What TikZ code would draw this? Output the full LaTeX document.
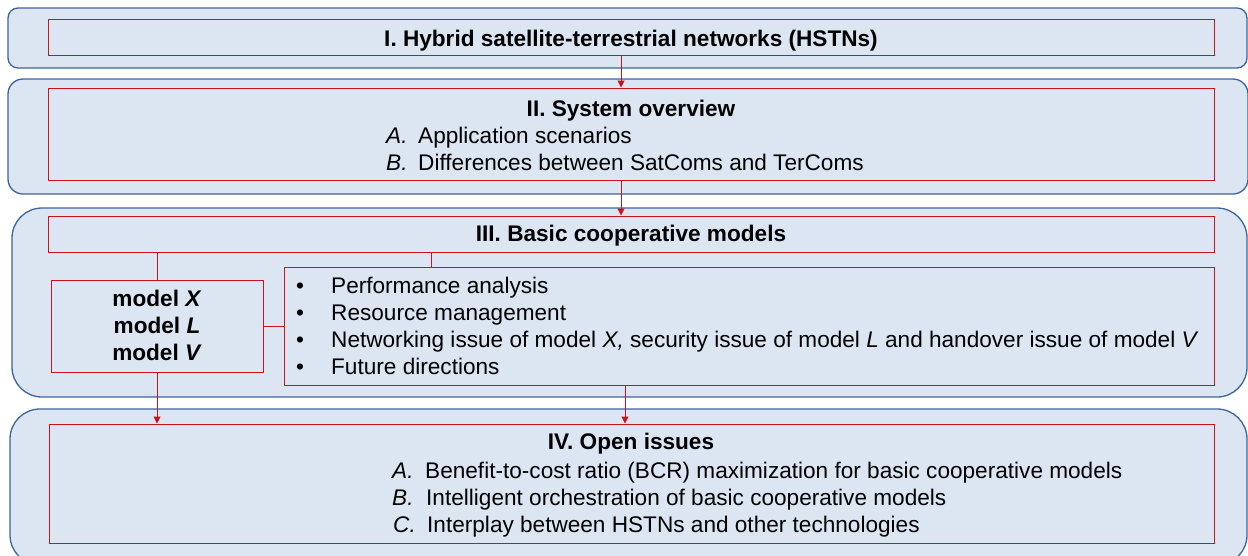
\documentclass[tikz,border=0pt]{standalone}
\usepackage{fontspec}
\setmainfont{Liberation Sans}
\usepackage{xcolor}
\usepackage{tikz}
\usetikzlibrary{arrows.meta}
\definecolor{secfill}{RGB}{220,230,242}
\definecolor{secline}{RGB}{60,100,160}
\definecolor{boxred}{RGB}{200,20,30}

\begin{document}
\begin{tikzpicture}[x=1pt,y=-1pt,font=\fontsize{22.6}{27}\selectfont,
  >={Triangle[length=7pt,width=7pt]},
  sec/.style={rectangle,draw=secline,fill=secfill,line width=1.3pt},
  redbox/.style={rectangle,draw=boxred,line width=1pt,inner sep=0pt},
  link/.style={draw=boxred,line width=1pt},
  txt/.style={anchor=base west,inner sep=0pt},
  ttl/.style={anchor=base,inner sep=0pt,font=\fontsize{22.6}{27}\selectfont\bfseries}]
%\draw[help lines] (0,0) grid (1248,555);
\useasboundingbox (0,0) rectangle (1248,555);
\path
(627.5,38) node(s1) [sec,rounded corners=10pt,minimum width=1239pt,minimum height=60pt] {}
(628,136.5) node(s2) [sec,rounded corners=15pt,minimum width=1240pt,minimum height=115pt] {}
(629.5,302.5) node(s3) [sec,rounded corners=30pt,minimum width=1235pt,minimum height=189pt] {}
(628.5,487) node(s4) [sec,rounded corners=30pt,minimum width=1237pt,minimum height=156pt] {};
\path
(631,37) node(t1) [redbox,minimum width=1166pt,minimum height=36pt] {}
(631,134) node(t2) [redbox,minimum width=1166pt,minimum height=92pt] {}
(631,234) node(t3) [redbox,minimum width=1166pt,minimum height=36pt] {}
(157,326) node(models) [redbox,minimum width=212pt,minimum height=92pt] {}
(749,326) node(bul) [redbox,minimum width=930pt,minimum height=118pt] {}
(631.5,483.5) node(t4) [redbox,minimum width=1165pt,minimum height=119pt] {};
\path
(631,46) node(h1) [ttl] {I. Hybrid satellite-terrestrial networks (HSTNs)}
(631,116) node(h2) [ttl] {II. System overview}
(386,143) node(a2) [txt] {\makebox[32pt][l]{\textit{A.}}Application scenarios}
(386,170) node(b2) [txt] {\makebox[32pt][l]{\textit{B.}}Differences between SatComs and TerComs}
(631,241) node(h3) [ttl] {III. Basic cooperative models}
(157,306) node(mx) [ttl] {model \textit{X}}
(157,333) node(ml) [ttl] {model \textit{L}}
(157,360) node(mv) [ttl] {model \textit{V}}
(296,293) node(p1) [txt] {\makebox[35pt][l]{•}Performance analysis}
(296,320) node(p2) [txt] {\makebox[35pt][l]{•}Resource management}
(296,347) node(p3) [txt] {\makebox[35pt][l]{•}Networking issue of model \textit{X,} security issue of model \textit{L} and handover issue of model \textit{V}}
(296,374) node(p4) [txt] {\makebox[35pt][l]{•}Future directions}
(631,449) node(h4) [ttl] {IV. Open issues}
(392,478) node(a4) [txt] {\makebox[33pt][l]{\textit{A.}}Benefit-to-cost ratio (BCR) maximization for basic cooperative models}
(392,505) node(b4) [txt] {\makebox[34pt][l]{\textit{B.}}Intelligent orchestration of basic cooperative models}
(393,532) node(c4) [txt] {\makebox[34pt][l]{\textit{C.}}Interplay between HSTNs and other technologies};
\coordinate (xa) at (621,0);
\coordinate (xm) at (431,0);
\coordinate (xb) at (625,0);
\draw[link,->] (t1.south -| xa) -- (t2.north -| xa);
\draw[link,->] (t2.south -| xa) -- (t3.north -| xa);
\draw[link] (t3.south -| models.north) -- (models.north);
\draw[link] (t3.south -| xm) -- (bul.north -| xm);
\draw[link] (models) -- (bul);
\draw[link,->] (models.south) -- (t4.north -| models.south);
\draw[link,->] (bul.south -| xb) -- (t4.north -| xb);
\end{tikzpicture}
\end{document}
